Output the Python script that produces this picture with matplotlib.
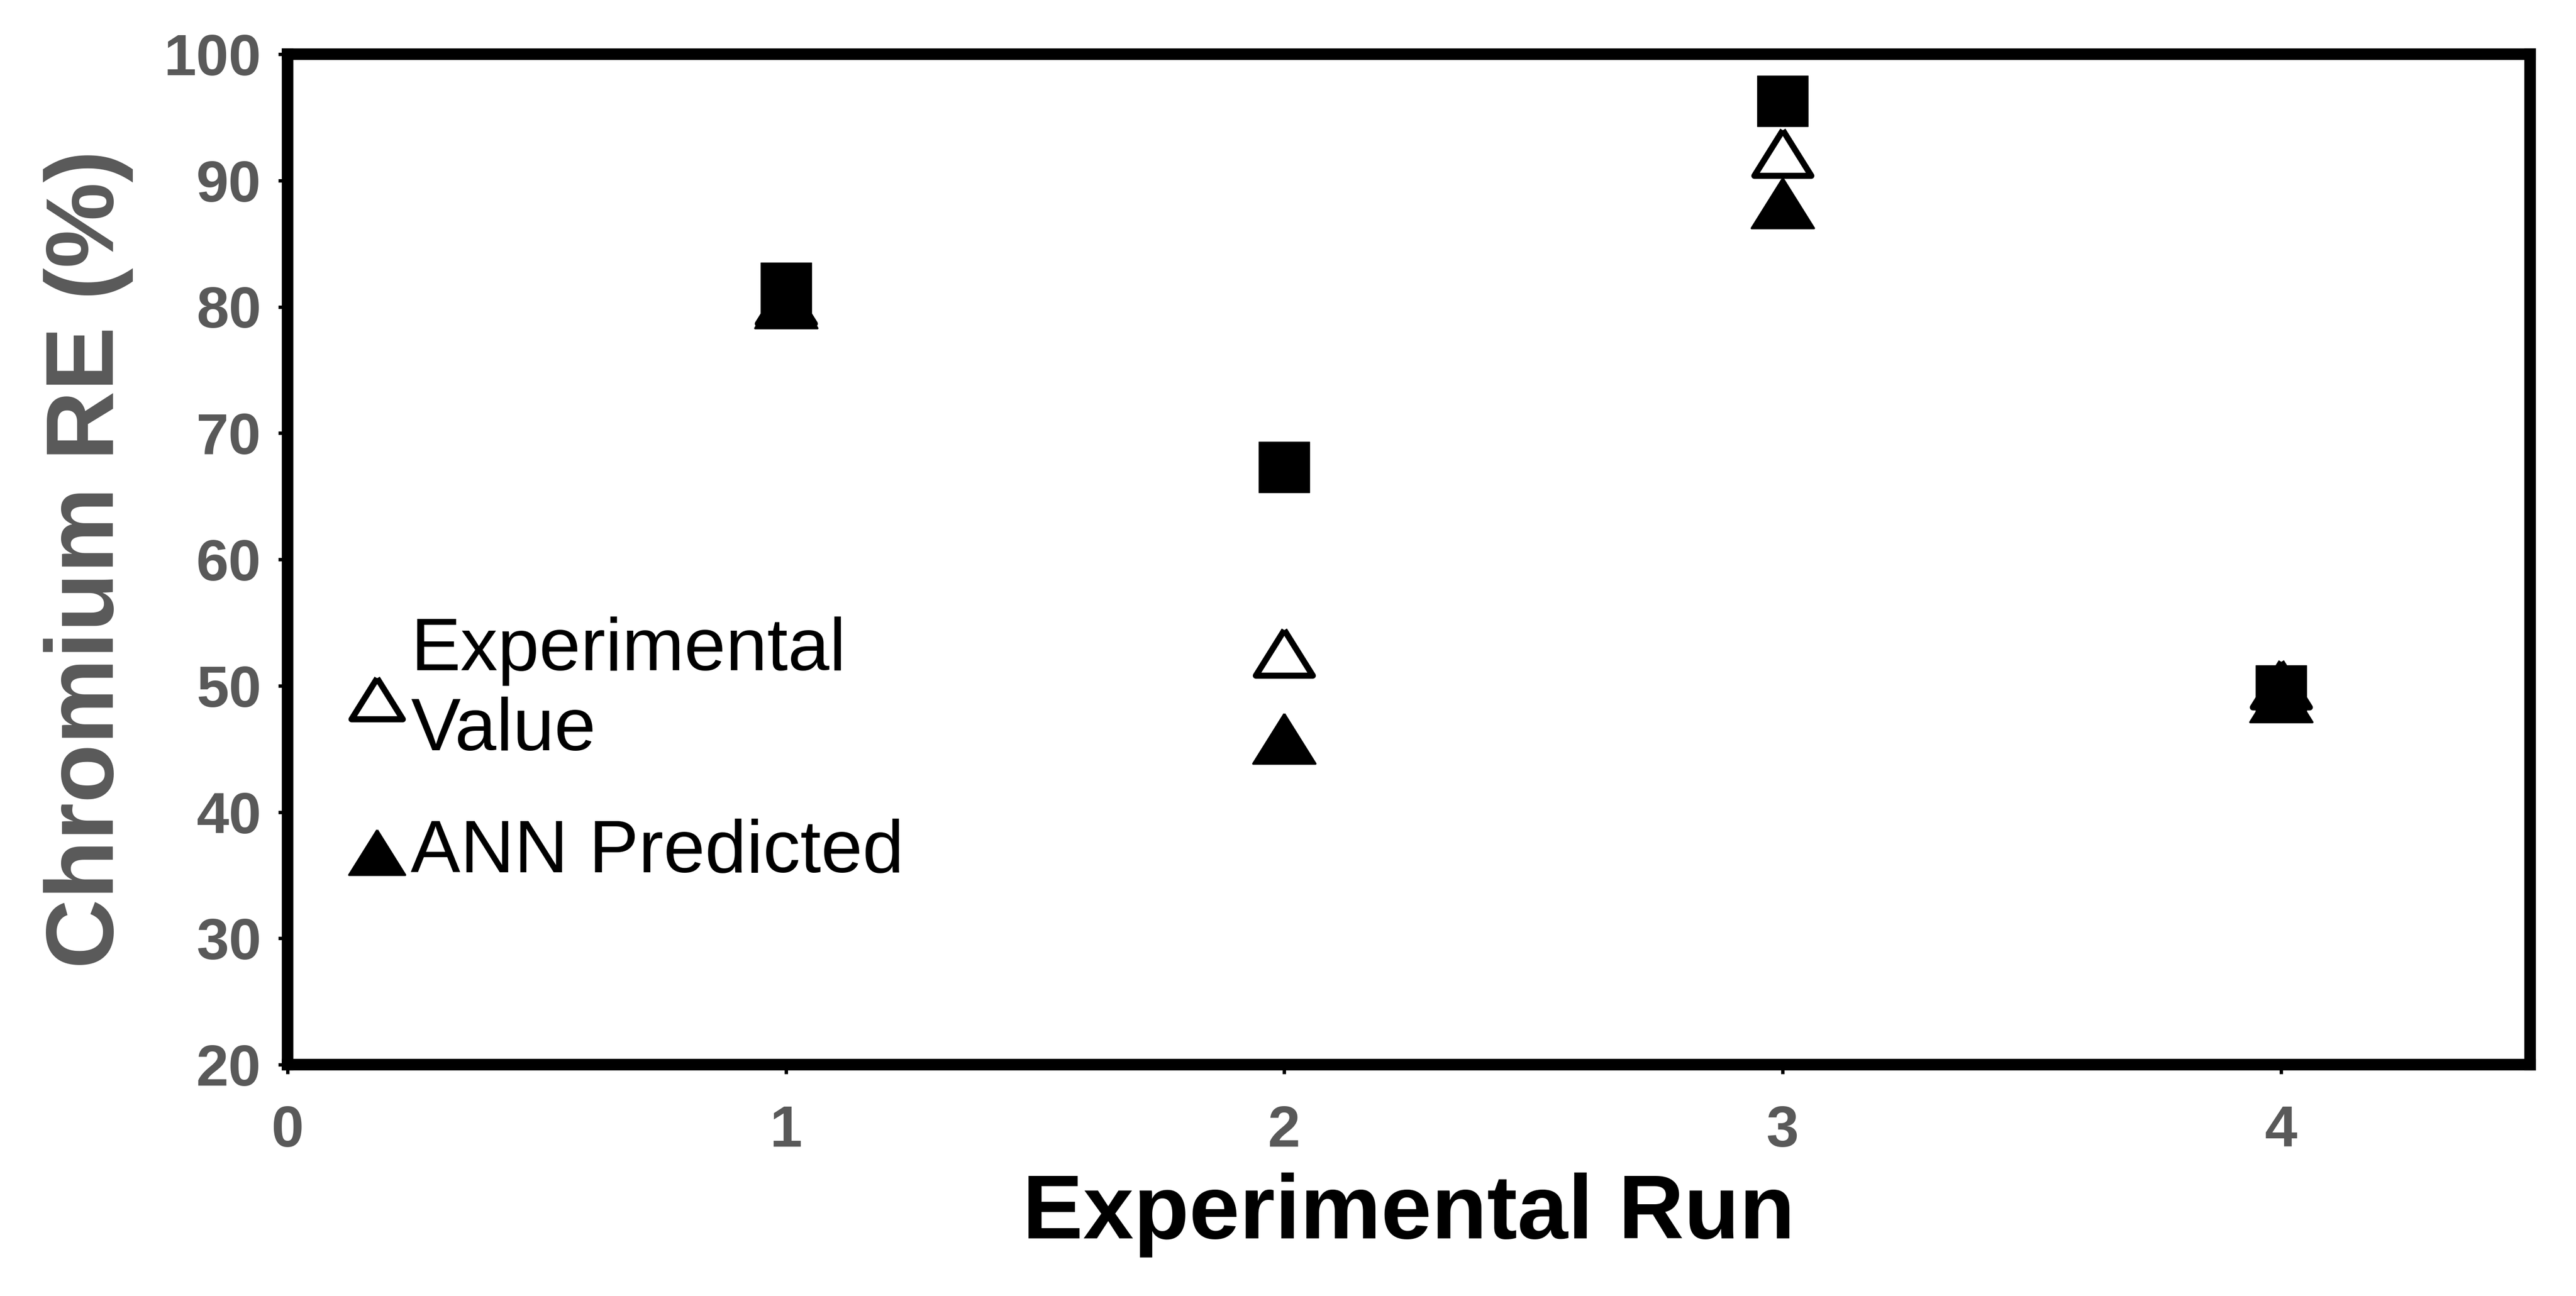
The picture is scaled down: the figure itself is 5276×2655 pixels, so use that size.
import matplotlib.pyplot as plt

runs = [1, 2, 3, 4]
experimental = [80.5, 52.6, 92.2, 50.1]
ann_predicted = [80.3, 45.8, 88.2, 49.1]
other = [81.5, 67.3, 96.3, 49.6]

plt.rcParams['font.family'] = ['Liberation Sans', 'DejaVu Sans']

fig = plt.figure(figsize=(52.76, 26.55), dpi=100)
ax = fig.add_axes([589 / 5276, 1 - 2181 / 2655, (5182 - 589) / 5276, (2181 - 111) / 2655])

# closed triangle, a bit wider than tall
tri = [(0, 1), (-1.25, -1), (1.25, -1), (0, 1)]

ax.scatter(runs, experimental, marker=tri, s=84 ** 2, facecolor='white', edgecolor='black',
           linewidth=9, zorder=3, label='Experimental\nValue')
ax.scatter(runs, ann_predicted, marker=tri, s=92 ** 2, facecolor='black', edgecolor='black',
           linewidth=3, zorder=4, label='ANN Predicted')
ax.scatter(runs, other, marker='s', s=75 ** 2, facecolor='black', edgecolor='black',
           linewidth=1, zorder=5)

ax.set_xlim(0, 4.5)
ax.set_ylim(20, 100)
ax.set_xticks([0, 1, 2, 3, 4])
ax.set_yticks(range(20, 101, 10))

for s in ax.spines.values():
    s.set_linewidth(17)
ax.tick_params(axis='both', length=14, width=5, direction='out', labelsize=86,
               labelcolor='#595959')
ax.tick_params(axis='x', pad=45)
ax.tick_params(axis='y', pad=25)
for lab in ax.get_xticklabels() + ax.get_yticklabels():
    lab.set_fontweight('bold')

ax.set_xlabel('Experimental Run', fontsize=134, fontweight='bold', labelpad=20)
ax.set_ylabel('Chromium RE (%)', fontsize=142, fontweight='bold', color='#595959', labelpad=45)

ax.legend(loc='upper left', bbox_to_anchor=(0.0, 0.51), frameon=False, fontsize=110,
          handlelength=0.6, handletextpad=0.15, labelspacing=0.7, markerscale=0.9)

fig.savefig('out.png', dpi=100)
